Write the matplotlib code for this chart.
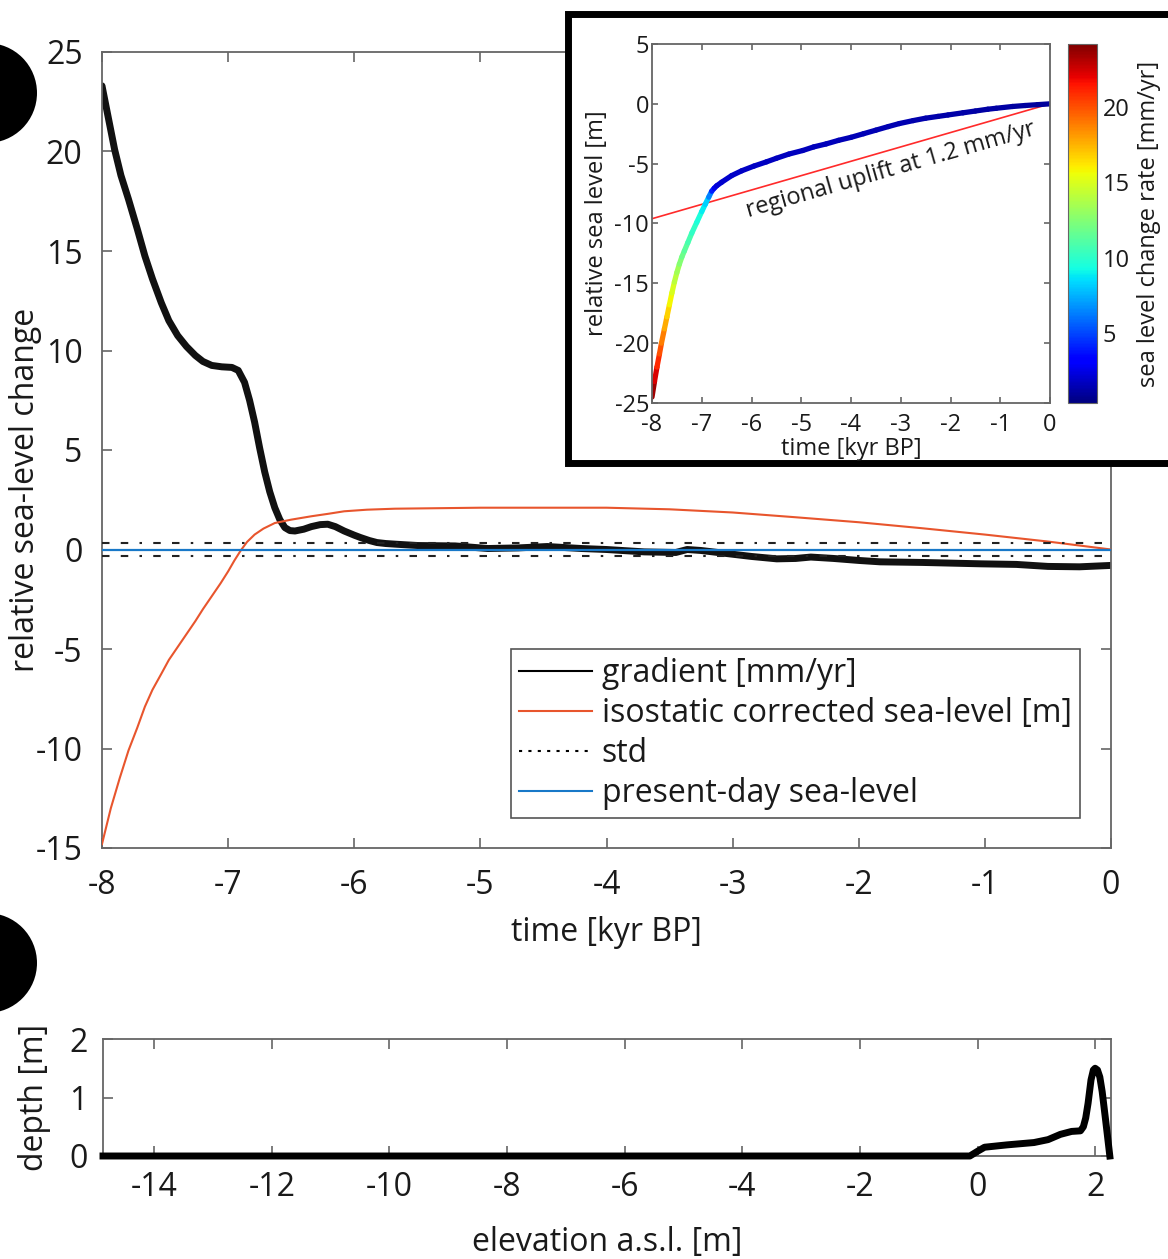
import numpy as np
import matplotlib
matplotlib.use("Agg")
from matplotlib import pyplot as plt
from matplotlib.collections import LineCollection
from matplotlib.lines import Line2D
from matplotlib.patches import Rectangle, Circle
from matplotlib.colors import Normalize

plt.rcParams['font.family'] = ['Open Sans', 'DejaVu Sans']
plt.rcParams['axes.unicode_minus'] = False

# main panel: time [kyr BP]
grad_t = [-8.0, -7.95, -7.9, -7.85, -7.79, -7.72, -7.66, -7.6, -7.53, -7.47,
          -7.40, -7.33, -7.26, -7.2, -7.13, -7.05, -6.97, -6.92, -6.87, -6.83,
          -6.79, -6.75, -6.71, -6.67, -6.63, -6.59, -6.55, -6.51, -6.47, -6.40,
          -6.34, -6.27, -6.21, -6.15, -6.08, -6.0, -5.95, -5.88, -5.82, -5.75,
          -5.68, -5.5, -5.2, -4.94, -4.7, -4.47, -4.2, -4.0, -3.7, -3.45,
          -3.36, -3.25, -3.05, -2.85, -2.65, -2.5, -2.38, -2.2, -2.0, -1.83,
          -1.5, -1.03, -0.75, -0.5, -0.25, 0.0]
grad_v = [23.3, 21.7, 20.1, 18.8, 17.6, 16.1, 14.75, 13.6, 12.4, 11.5,
          10.75, 10.2, 9.75, 9.45, 9.25, 9.18, 9.15, 9.0, 8.4, 7.5,
          6.4, 5.1, 3.9, 2.9, 2.1, 1.5, 1.1, 0.95, 0.93, 1.02,
          1.15, 1.25, 1.27, 1.15, 0.93, 0.72, 0.6, 0.45, 0.35, 0.3,
          0.27, 0.2, 0.18, 0.05, 0.08, 0.15, 0.05, 0.0, -0.12, -0.15,
          0.0, -0.05, -0.2, -0.35, -0.47, -0.45, -0.38, -0.45, -0.55, -0.62,
          -0.65, -0.72, -0.75, -0.85, -0.87, -0.8]

iso_t = [-8.0, -7.93, -7.86, -7.79, -7.72, -7.66, -7.6, -7.53, -7.47, -7.40,
         -7.33, -7.26, -7.2, -7.13, -7.06, -7.0, -6.95, -6.9, -6.85, -6.79,
         -6.72, -6.63, -6.5, -6.34, -6.2, -6.08, -5.9, -5.68, -5.0, -4.0,
         -3.5, -3.0, -2.5, -2.0, -1.5, -1.0, -0.5, 0.0]
iso_v = [-14.8, -13.0, -11.5, -10.1, -8.95, -7.9, -7.05, -6.25, -5.55, -4.9,
         -4.25, -3.6, -3.0, -2.35, -1.7, -1.1, -0.55, -0.05, 0.38, 0.75,
         1.05, 1.33, 1.5, 1.67, 1.8, 1.92, 2.0, 2.05, 2.1, 2.1,
         2.02, 1.86, 1.62, 1.37, 1.07, 0.75, 0.4, 0.0]

std_sl = 0.35
present_sl = 0.0

# inset: relative sea level and its change rate
rsl_t = [-8.0, -7.95, -7.9, -7.85, -7.81, -7.75, -7.7, -7.65, -7.6, -7.55,
         -7.5, -7.45, -7.4, -7.35, -7.28, -7.2, -7.1, -7.0, -6.93, -6.86,
         -6.8, -6.75, -6.7, -6.6, -6.4, -6.2, -5.95, -5.7, -5.5, -5.25,
         -4.97, -4.75, -4.5, -4.25, -4.0, -3.75, -3.5, -3.25, -3.03, -2.75,
         -2.5, -2.25, -2.05, -1.75, -1.5, -1.25, -1.08, -0.75, -0.5, -0.25, 0.0]
rsl_v = [-24.5, -23.2, -22.0, -20.9, -20.0, -18.8, -17.8, -16.8, -15.8, -14.9,
         -14.1, -13.4, -12.8, -12.3, -11.6, -10.8, -9.9, -9.0, -8.4, -7.8,
         -7.3, -7.05, -6.85, -6.55, -6.0, -5.6, -5.2, -4.85, -4.55, -4.2,
         -3.9, -3.6, -3.35, -3.05, -2.8, -2.5, -2.2, -1.9, -1.65, -1.4,
         -1.2, -1.05, -0.93, -0.75, -0.6, -0.45, -0.37, -0.22, -0.14, -0.07, 0.0]
rsl_rate = [24, 23, 21.5, 20.5, 19.5, 18.2, 17.2, 16.2, 15.3, 14.5,
            13.7, 12.9, 12.2, 11.6, 11.0, 10.4, 9.8, 9.2, 8.6, 7.8,
            5.0, 3.0, 2.3, 2.0, 1.9, 1.8, 1.8, 1.75, 1.7, 1.7,
            1.65, 1.6, 1.6, 1.55, 1.5, 1.5, 1.45, 1.4, 1.4, 1.35,
            1.3, 1.3, 1.25, 1.2, 1.2, 1.15, 1.1, 1.1, 1.05, 1.0, 1.0]
uplift_t = [-8.0, 0.0]
uplift_v = [-9.6, 0.0]

# bottom panel: depth vs elevation
elev = [-14.87, -12, -8, -4, -0.13, 0.0, 0.12, 0.5, 0.96, 1.2,
        1.41, 1.6, 1.75, 1.8, 1.84, 1.88, 1.93, 1.97, 2.0, 2.04,
        2.08, 2.12, 2.18, 2.25]
depth = [0, 0, 0, 0, 0, 0.08, 0.15, 0.19, 0.23, 0.28,
         0.37, 0.42, 0.43, 0.5, 0.65, 0.9, 1.3, 1.47, 1.5, 1.47,
         1.35, 1.1, 0.6, 0.0]

red = '#e8552d'
blue = '#1878c8'
spine_c = '#666666'
txt_c = '#1a1a1a'
FS = 23
FSI = 17

W, H = 1168, 1259
def box(l, t, r, b):
    return [l / W, 1 - b / H, (r - l) / W, (b - t) / H]

def style(a, size, pad, length):
    a.tick_params(direction='in', top=True, right=True, length=length, width=1.2,
                  color=spine_c, labelcolor=txt_c, labelsize=size, pad=pad)
    for s in a.spines.values():
        s.set_color(spine_c)
        s.set_linewidth(1.3)

fig = plt.figure(figsize=(11.68, 12.59), dpi=100)

# ---- main panel
ax = fig.add_axes(box(102, 52, 1111, 848))
ax.set_zorder(0)
ax.plot(grad_t, grad_v, color='#111111', lw=5, solid_capstyle='round',
        solid_joinstyle='round', zorder=2)
ax.plot(iso_t, iso_v, color=red, lw=1.5, zorder=3)
std_ls = (0, (3.6, 5.4, 3.6, 5.4, 1.2, 5.4))
ax.axhline(std_sl, color='#222222', lw=1.5, ls=std_ls, zorder=4)
ax.axhline(-std_sl, color='#222222', lw=1.5, ls=std_ls, zorder=4)
ax.axhline(present_sl, color=blue, lw=1.6, zorder=5)
ax.set_xlim(-8, 0)
ax.set_ylim(-15, 25)
ax.set_xticks(np.arange(-8, 1, 1))
ax.set_yticks(np.arange(-15, 26, 5))
style(ax, FS, 15, 7)
ax.tick_params(axis='y', pad=14)
ax.set_xlabel('time [kyr BP]', fontsize=FS, color=txt_c, labelpad=10)
ax.set_ylabel('relative sea-level change', fontsize=FS, color=txt_c)
ax.yaxis.set_label_coords(-0.059, 0.45)

handles = [Line2D([], [], color='k', lw=1.5),
           Line2D([], [], color=red, lw=1.5),
           Line2D([], [], color='k', lw=1.5, ls=(0, (1.5, 3))),
           Line2D([], [], color=blue, lw=1.5)]
labels = ['gradient [mm/yr]', 'isostatic corrected sea-level [m]', 'std',
          'present-day sea-level']
leg = ax.legend(handles, labels, loc='lower right', bbox_to_anchor=(0.969, 0.038),
                fontsize=FS, frameon=True, fancybox=False, edgecolor='#555555',
                framealpha=1, handlelength=2.3, handletextpad=0.3,
                labelspacing=0.22, borderpad=0.25, borderaxespad=0)
leg.get_frame().set_linewidth(1.2)
for t in leg.get_texts():
    t.set_color(txt_c)

# ---- inset frame
frame = Rectangle((567.5 / W, 1 - 463 / H), 700 / W, 449.5 / H, transform=fig.transFigure,
                  facecolor='white', edgecolor='black', lw=5, zorder=1)
fig.add_artist(frame)

# ---- inset
axi = fig.add_axes(box(652, 44, 1050, 403))
axi.set_zorder(2)
norm = Normalize(0.35, 24.2)
pts = np.column_stack([rsl_t, rsl_v])
segs = np.stack([pts[:-1], pts[1:]], axis=1)
rate = np.asarray(rsl_rate, dtype=float)
lc = LineCollection(segs, cmap='jet', norm=norm, linewidths=3.8, capstyle='round')
lc.set_array((rate[:-1] + rate[1:]) / 2)
axi.plot(uplift_t, uplift_v, color='#ff2a2a', lw=1.2, zorder=1)
axi.add_collection(lc)
axi.set_xlim(-8, 0)
axi.set_ylim(-25, 5)
axi.set_xticks(np.arange(-8, 1, 1))
axi.set_yticks(np.arange(-25, 6, 5))
style(axi, FSI, 7, 4)
axi.tick_params(axis='y', pad=2)
axi.set_xlabel('time [kyr BP]', fontsize=FSI, color=txt_c, labelpad=0)
axi.set_ylabel('relative sea level [m]', fontsize=FSI, color=txt_c, labelpad=4)
axi.text(-3.2, -5.5, 'regional uplift at 1.2 mm/yr', fontsize=FSI, color=txt_c,
         rotation=16, rotation_mode='anchor', ha='center', va='center')

cax = fig.add_axes(box(1068, 44, 1097, 403))
cax.set_zorder(2)
cb = fig.colorbar(lc, cax=cax, ticks=[5, 10, 15, 20])
cb.outline.set_edgecolor(spine_c)
cb.ax.tick_params(length=0, labelsize=FSI, labelcolor=txt_c, pad=4)
cb.set_label('sea level change rate [mm/yr]', fontsize=FSI, color=txt_c, labelpad=5)

# ---- bottom panel
axb = fig.add_axes(box(103, 1039, 1111, 1156))
axb.plot(elev, depth, color='black', lw=5, clip_on=False, zorder=3,
         solid_joinstyle='round')
axb.set_xlim(-14.87, 2.27)
axb.set_ylim(0, 2)
axb.set_xticks(np.arange(-14, 3, 2))
axb.set_yticks([0, 1, 2])
style(axb, FS, 11, 7)
axb.set_xlabel('elevation a.s.l. [m]', fontsize=FS, color=txt_c, labelpad=16)
axb.set_ylabel('depth [m]', fontsize=FS, color=txt_c)
axb.yaxis.set_label_coords(-0.052, 0.5)

# panel label discs, cut off at the left edge
for cy in [93, 963]:
    fig.add_artist(Circle((-0.13, (H - cy) / 100), 0.5, transform=fig.dpi_scale_trans,
                          facecolor='black', edgecolor='none'))

fig.savefig('out.png', dpi=100)
